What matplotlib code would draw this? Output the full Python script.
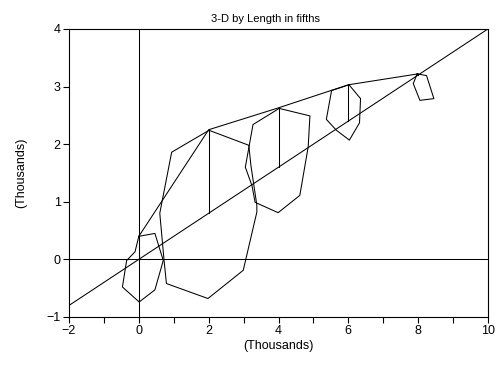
import numpy as np
import matplotlib
matplotlib.use("Agg")
import matplotlib.pyplot as plt
from matplotlib.ticker import MultipleLocator

plt.rcParams['font.family'] = ['Liberation Sans', 'DejaVu Sans']

# group centres (fifths of length, thousands)
centres = [0, 2, 4, 6, 8]
# top of each group (envelope)
tops = [0.40, 2.25, 2.63, 3.03, 3.22]
# slope of the reference line y = slope * x
slope = 0.4

# outline polygons of each group (x, y in thousands)
poly0_x = [0.00, 0.46, 0.70, 0.46, 0.01, -0.47, -0.35, -0.11]
poly0_y = [0.40, 0.45, -0.02, -0.53, -0.74, -0.48, -0.02, 0.13]
poly2_x = [2.01, 3.15, 3.21, 3.38, 3.38, 2.99, 1.98, 0.79, 0.72, 0.60, 0.94]
poly2_y = [2.24, 1.98, 1.63, 0.94, 0.82, -0.19, -0.68, -0.42, 0.00, 0.80, 1.86]
poly4_x = [4.02, 4.90, 4.85, 4.61, 3.99, 3.33, 3.24, 3.05, 3.27]
poly4_y = [2.62, 2.49, 1.95, 1.11, 0.81, 0.99, 1.28, 1.60, 2.34]
poly6_x = [6.02, 6.35, 6.32, 6.03, 5.66, 5.37, 5.52]
poly6_y = [3.03, 2.79, 2.37, 2.07, 2.24, 2.43, 2.93]
poly8_x = [7.97, 8.24, 8.45, 8.05, 7.86]
poly8_y = [3.22, 3.19, 2.79, 2.76, 3.05]

xticks = [-2, 0, 2, 4, 6, 8, 10]
yticks = [-1, 0, 1, 2, 3, 4]

fig = plt.figure(figsize=(5.0, 3.66), dpi=100)
ax = fig.add_axes([0.138, 0.134, 0.838, 0.787])

lw = 0.75
ax.axvline(0, color='black', lw=lw)
ax.axhline(0, color='black', lw=lw)

xs = np.array([-2, 10])
ax.plot(xs, slope * xs, color='black', lw=lw)

ax.plot(centres, tops, color='black', lw=lw)
for c, t in zip(centres, tops):
    ax.plot([c, c], [slope * c, t], color='black', lw=lw)

for px, py in [(poly0_x, poly0_y), (poly2_x, poly2_y), (poly4_x, poly4_y),
               (poly6_x, poly6_y), (poly8_x, poly8_y)]:
    ax.plot(px + px[:1], py + py[:1], color='black', lw=lw)

ax.set_xlim(-2, 10)
ax.set_ylim(-1, 4)
ax.set_xticks(xticks)
ax.set_yticks(yticks)
ax.xaxis.set_minor_locator(MultipleLocator(1))
ax.set_xticklabels(['\u22122', '0', '2', '4', '6', '8', '10'])
ax.set_yticklabels(['\u22121', '0', '1', '2', '3', '4'])
ax.tick_params(axis='both', which='both', direction='out', labelsize=9,
               length=4, width=0.8, pad=2)
for s in ax.spines.values():
    s.set_linewidth(0.8)

ax.set_xlabel('(Thousands)', fontsize=9, labelpad=2)
ax.set_ylabel('(Thousands)', fontsize=9, labelpad=14)
ax.set_title('3-D by Length in fifths', fontsize=8, pad=5, x=0.47)

fig.savefig('out.png', dpi=100)
